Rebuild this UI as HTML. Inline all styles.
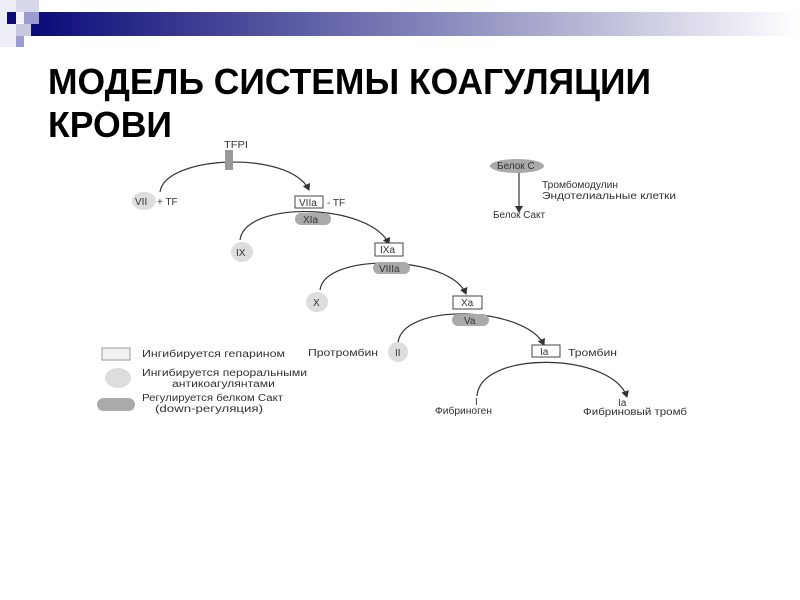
<!DOCTYPE html>
<html><head><meta charset="utf-8"><style>
html,body{margin:0;padding:0;background:#fff;width:800px;height:600px;overflow:hidden}
</style></head><body>
<svg width="800" height="600" viewBox="0 0 800 600" xmlns="http://www.w3.org/2000/svg" font-family="Liberation Sans, sans-serif">
<defs>
<linearGradient id="g" x1="0" x2="1" y1="0" y2="0">
<stop offset="0" stop-color="#0a0a78"/><stop offset="0.5" stop-color="#8080b8"/><stop offset="1" stop-color="#ffffff"/>
</linearGradient>
<marker id="a" markerWidth="8" markerHeight="8" refX="6" refY="4" orient="auto" markerUnits="userSpaceOnUse">
<path d="M0,0 L7,4 L0,8 Z" fill="#333"/></marker>
</defs>
<rect x="31" y="12" width="769" height="24" fill="url(#g)"/>
<rect x="0" y="0" width="16" height="47" fill="#eeeef6"/>
<rect x="16" y="0" width="23" height="12" fill="#d8d8ea"/>
<rect x="7" y="12" width="9" height="12" fill="#0a0a78"/>
<rect x="16" y="12" width="8" height="11" fill="#f4f4fa"/>
<rect x="24" y="12" width="15" height="12" fill="#9c9cd0"/>
<rect x="16" y="24" width="15" height="12" fill="#c8c8e0"/>
<rect x="16" y="36" width="8" height="11" fill="#9c9cd0"/>
<g font-weight="bold" font-size="36" fill="#000">
<text x="48" y="94" textLength="603" lengthAdjust="spacingAndGlyphs">МОДЕЛЬ СИСТЕМЫ КОАГУЛЯЦИИ</text>
<text x="48" y="137" textLength="124" lengthAdjust="spacingAndGlyphs">КРОВИ</text>
</g>
<g fill="none" stroke="#333" stroke-width="1.2">
<path d="M160,192 C165,155 290,150 309,190" marker-end="url(#a)"/>
<path d="M240,240 C245,200 370,203 389,244" marker-end="url(#a)"/>
<path d="M320,290 C325,252 450,255 466,294" marker-end="url(#a)"/>
<path d="M398,343 C402,302 525,306 544,345" marker-end="url(#a)"/>
<path d="M477,396 C480,350 612,352 627,397" marker-end="url(#a)"/>
<path d="M519,172 L519,212" marker-end="url(#a)"/>
</g>
<rect x="225" y="150" width="8" height="20" fill="#999"/>
<g fill="#ddd">
<ellipse cx="144" cy="201" rx="12" ry="9"/>
<ellipse cx="242" cy="252" rx="11" ry="10"/>
<ellipse cx="317" cy="302" rx="11" ry="10"/>
<ellipse cx="398" cy="352" rx="10" ry="10"/>
<ellipse cx="118" cy="378" rx="13" ry="10"/>
</g>
<g fill="#aaa">
<rect x="295" y="213" width="36" height="12" rx="6"/>
<rect x="373" y="262" width="37" height="12" rx="6"/>
<rect x="452" y="314" width="37" height="12" rx="6"/>
<rect x="97" y="398" width="38" height="13" rx="6.5"/>
<ellipse cx="517" cy="166" rx="27" ry="7"/>
</g>
<g fill="#fff" stroke="#444">
<rect x="295" y="196" width="28" height="12"/>
<rect x="375" y="243" width="28" height="13"/>
<rect x="453" y="296" width="29" height="13"/>
<rect x="532" y="345" width="28" height="12"/>
<rect x="102" y="348" width="28" height="12" fill="#f2f2f2" stroke="#999"/>
</g>
<g font-size="10" fill="#333">
<text x="224" y="148" textLength="24" lengthAdjust="spacingAndGlyphs">TFPI</text>
<text x="135" y="205">VII</text><text x="157" y="205">+ TF</text>
<text x="299" y="206">VIIa</text><text x="327" y="206">- TF</text>
<text x="303" y="223">XIa</text>
<text x="236" y="256">IX</text>
<text x="380" y="253">IXa</text>
<text x="379" y="272">VIIIa</text>
<text x="313" y="306">X</text>
<text x="461" y="306">Xa</text>
<text x="464" y="324">Va</text>
<text x="308" y="356" textLength="70" lengthAdjust="spacingAndGlyphs">Протромбин</text><text x="395" y="356">II</text>
<text x="540" y="355">Ia</text><text x="568" y="356" textLength="49" lengthAdjust="spacingAndGlyphs">Тромбин</text>
<text x="475" y="405">I</text><text x="435" y="414" textLength="57" lengthAdjust="spacingAndGlyphs">Фибриноген</text>
<text x="618" y="406">Ia</text><text x="583" y="415" textLength="104" lengthAdjust="spacingAndGlyphs">Фибриновый тромб</text>
<text x="142" y="357" textLength="143" lengthAdjust="spacingAndGlyphs">Ингибируется гепарином</text>
<text x="142" y="376" textLength="165" lengthAdjust="spacingAndGlyphs">Ингибируется пероральными</text>
<text x="172" y="387" textLength="103" lengthAdjust="spacingAndGlyphs">антикоагулянтами</text>
<text x="142" y="401" textLength="141" lengthAdjust="spacingAndGlyphs">Регулируется белком Сакт</text>
<text x="155" y="412" textLength="108" lengthAdjust="spacingAndGlyphs">(down-регуляция)</text>
<text x="497" y="169">Белок С</text>
<text x="542" y="188" textLength="76" lengthAdjust="spacingAndGlyphs">Тромбомодулин</text>
<text x="542" y="199" textLength="134" lengthAdjust="spacingAndGlyphs">Эндотелиальные клетки</text>
<text x="493" y="218" textLength="52" lengthAdjust="spacingAndGlyphs">Белок Сакт</text>
</g>
</svg>
</body></html>
